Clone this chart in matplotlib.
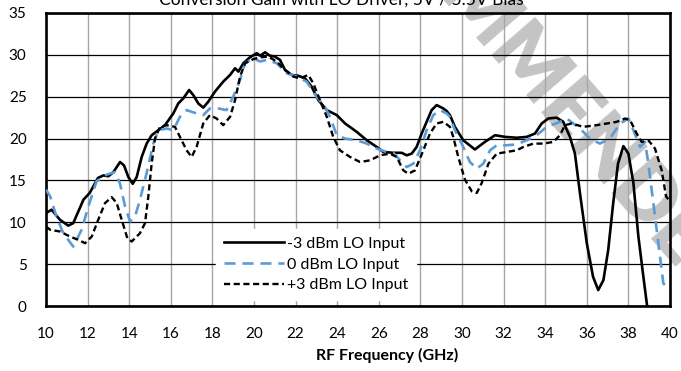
import matplotlib
matplotlib.use("Agg")
import matplotlib.pyplot as plt

plt.rcParams['font.family'] = ['Lato', 'DejaVu Sans']

# Conversion gain (dB) vs RF frequency (GHz) for three LO drive levels
freq_m3 = [10.0, 10.27, 10.67, 11.07, 11.31, 11.8, 12.1, 12.5, 12.76, 13.0, 13.24, 13.56, 13.75,
           13.96, 14.17, 14.36, 14.6, 14.84, 15.08, 15.4, 15.72, 16.12, 16.36, 16.6, 16.88, 17.08,
           17.32, 17.56, 17.8, 18.12, 18.52, 18.85, 19.09, 19.25, 19.49, 19.8, 20.13, 20.3, 20.53,
           20.77, 21.0, 21.25, 21.49, 21.81, 22.13, 22.45, 22.77, 23.09, 23.5, 23.98, 24.38, 24.94,
           25.42, 25.9, 26.22, 26.7, 27.1, 27.34, 27.58, 27.82, 28.06, 28.3, 28.54, 28.78, 28.94,
           29.1, 29.26, 29.42, 29.66, 30.06, 30.62, 31.1, 31.59, 32.07, 32.63, 33.11, 33.51, 33.83,
           34.15, 34.55, 34.87, 35.19, 35.43, 35.67, 36.0, 36.3, 36.55, 36.8, 37.03, 37.27, 37.5,
           37.76, 38.0, 38.24, 38.48, 38.72, 38.9, 39.0]
gain_m3 = [11.1, 11.5, 10.3, 9.6, 9.9, 12.7, 13.5, 15.3, 15.6, 15.5, 16.0, 17.2, 16.8,
           15.4, 14.6, 15.4, 17.8, 19.4, 20.4, 21.0, 21.6, 23.0, 24.2, 24.8, 25.8, 25.2,
           24.2, 23.7, 24.4, 25.6, 26.8, 27.6, 28.4, 28.0, 29.0, 29.7, 30.2, 29.9, 30.3,
           29.9, 29.8, 29.4, 28.2, 27.6, 27.5, 27.2, 26.2, 24.6, 23.4, 22.8, 21.8, 20.8,
           19.8, 19.0, 18.4, 18.3, 18.3, 18.0, 18.2, 19.0, 20.6, 22.0, 23.4, 24.0, 23.8,
           23.6, 23.3, 22.8, 21.4, 19.8, 18.7, 19.6, 20.4, 20.2, 20.1, 20.2, 20.6, 21.8,
           22.4, 22.5, 22.0, 20.2, 18.2, 13.5, 7.5, 3.5, 1.9, 3.1, 6.7, 12.3, 17.0,
           19.1, 18.2, 14.7, 8.3, 3.5, 0.0, -1.5]

freq_0 = [10.0, 10.2, 10.5, 10.83, 11.31, 11.71, 12.04, 12.43, 12.92, 13.32, 13.56, 13.8, 14.04,
          14.28, 14.52, 14.84, 15.16, 15.4, 15.8, 16.12, 16.44, 16.76, 17.24, 17.56, 17.88, 18.28,
          18.68, 19.0, 19.33, 19.57, 19.97, 20.29, 20.61, 21.09, 21.57, 22.05, 22.53, 23.01, 23.41,
          23.65, 23.98, 24.38, 24.94, 25.42, 25.9, 26.38, 26.7, 27.02, 27.34, 27.66, 27.98, 28.3,
          28.62, 28.94, 29.26, 29.42, 29.66, 30.06, 30.38, 30.71, 31.02, 31.35, 31.67, 32.15, 32.63,
          33.11, 33.59, 34.07, 34.71, 35.03, 35.67, 36.15, 36.63, 37.11, 37.6, 38.0, 38.24, 38.56,
          38.8, 38.96, 39.2, 39.44, 39.68, 39.8]
gain_0 = [13.9, 13.1, 10.7, 8.7, 7.1, 9.1, 11.9, 14.9, 15.7, 16.0, 14.6, 11.9, 10.1,
          10.7, 12.7, 15.9, 19.4, 21.0, 21.2, 21.0, 22.6, 23.4, 23.0, 22.8, 23.6, 23.6,
          23.4, 25.0, 27.0, 29.0, 29.6, 29.2, 29.4, 29.0, 27.8, 27.4, 26.8, 25.0, 23.8,
          22.6, 20.4, 20.0, 19.8, 19.4, 18.8, 18.4, 18.3, 17.4, 16.6, 17.0, 18.6, 21.0,
          22.8, 23.4, 23.0, 22.6, 21.0, 19.0, 17.2, 16.4, 17.0, 18.6, 19.2, 19.2, 19.3,
          19.8, 20.4, 21.4, 22.0, 22.4, 21.2, 20.0, 19.4, 20.0, 21.8, 22.4, 21.0, 19.0,
          19.6, 17.0, 12.3, 7.5, 2.7, 2.4]

freq_p3 = [10.0, 10.2, 10.67, 11.15, 11.55, 11.88, 12.2, 12.51, 12.84, 13.16, 13.4, 13.64, 13.91,
           14.12, 14.52, 14.76, 14.92, 15.08, 15.24, 15.48, 15.8, 16.2, 16.44, 16.76, 17.0, 17.24,
           17.56, 17.88, 18.2, 18.52, 18.85, 19.09, 19.33, 19.57, 19.97, 20.29, 20.69, 21.09, 21.49,
           21.89, 22.21, 22.61, 22.85, 23.17, 23.5, 23.81, 24.13, 24.62, 25.1, 25.58, 26.06, 26.54,
           26.86, 27.18, 27.42, 27.74, 28.14, 28.46, 28.78, 29.1, 29.42, 29.58, 29.82, 30.14, 30.47,
           30.71, 30.95, 31.27, 31.67, 32.15, 32.63, 32.95, 33.43, 33.91, 34.39, 34.71, 34.95, 35.27,
           35.83, 36.47, 36.96, 37.44, 37.84, 38.08, 38.4, 38.64, 38.96, 39.28, 39.6, 39.81, 40.0]
gain_p3 = [9.5, 9.1, 8.9, 8.3, 7.9, 7.5, 8.3, 10.3, 12.3, 13.0, 12.3, 10.3, 8.1,
           7.7, 8.7, 9.9, 13.1, 17.0, 20.0, 21.4, 21.6, 21.4, 20.2, 18.6, 17.8, 19.0,
           21.8, 22.8, 22.4, 21.6, 22.6, 24.6, 27.4, 29.0, 29.5, 29.7, 29.8, 29.2, 28.2,
           27.4, 27.2, 27.6, 26.6, 24.6, 22.6, 20.2, 18.6, 17.8, 17.2, 17.4, 18.0, 18.2,
           17.8, 16.2, 15.8, 16.2, 18.6, 20.6, 21.8, 22.0, 21.4, 20.2, 17.8, 15.1, 13.7,
           13.5, 14.7, 17.0, 18.2, 18.4, 18.6, 19.0, 19.4, 19.4, 19.6, 20.4, 21.6, 21.8,
           21.4, 21.6, 21.8, 22.0, 22.4, 22.2, 20.6, 19.6, 19.8, 18.8, 16.2, 13.1, 12.5]

series_labels = ['-3 dBm LO Input', '0 dBm LO Input', '+3 dBm LO Input']
x_ticks = list(range(10, 41, 2))
y_ticks = list(range(0, 36, 5))

W, H = 681, 371
fig = plt.figure(figsize=(W / 100, H / 100), dpi=100)
ax = fig.add_axes([46 / W, (H - 306) / H, 624 / W, 293 / H])

ax.set_xlim(10, 40)
ax.set_ylim(0, 35)
ax.set_xticks(x_ticks)
ax.set_yticks(y_ticks)
ax.tick_params(axis='both', length=0, labelsize=11, colors='black')
ax.tick_params(axis='x', pad=15)
ax.tick_params(axis='y', pad=14)

# vertical grid gray, horizontal grid black
ax.set_axisbelow('line')
ax.xaxis.grid(True, color='#a6a6a6', linewidth=1.0)
ax.yaxis.grid(True, color='black', linewidth=0.9)

for s in ax.spines.values():
    s.set_linewidth(1.9)
    s.set_color('black')

# diagonal watermark behind the curves
ax.text(522 / W, 1 - 62 / H, 'RECOMMENDED', transform=fig.transFigure,
        rotation=-49, rotation_mode='anchor', ha='center', va='center',
        fontsize=57, fontweight='heavy', color='#c4c4c4', zorder=1.0, clip_on=False)

ax.plot(freq_m3, gain_m3, color='black', linewidth=1.9, label=series_labels[0], zorder=3)
ax.plot(freq_0, gain_0, color='#5b9bd5', linewidth=1.9, dashes=(4.2, 2.6),
        label=series_labels[1], zorder=3)
ax.plot(freq_p3, gain_p3, color='black', linewidth=1.7, dashes=(2.6, 1.5),
        label=series_labels[2], zorder=3)

leg = ax.legend(loc='lower left', bbox_to_anchor=(0.272, 0.02), fontsize=11.5,
                frameon=True, fancybox=False, framealpha=1.0, edgecolor='white',
                handlelength=3.8, handletextpad=0.15, labelspacing=0.4,
                borderpad=0.5, borderaxespad=0)
leg.set_zorder(4)

fig.text(387 / W, 1 - 355 / H, 'RF Frequency (GHz)', ha='center', va='center',
         fontsize=11.5, fontweight='bold')
# chart heading sits at the very top edge of the canvas
fig.text(341 / W, 1 - 5 / H, 'Conversion Gain with LO Driver, 5V / 5.5V Bias',
         ha='center', va='baseline', fontsize=12.5)

fig.savefig('out.png', dpi=100)
